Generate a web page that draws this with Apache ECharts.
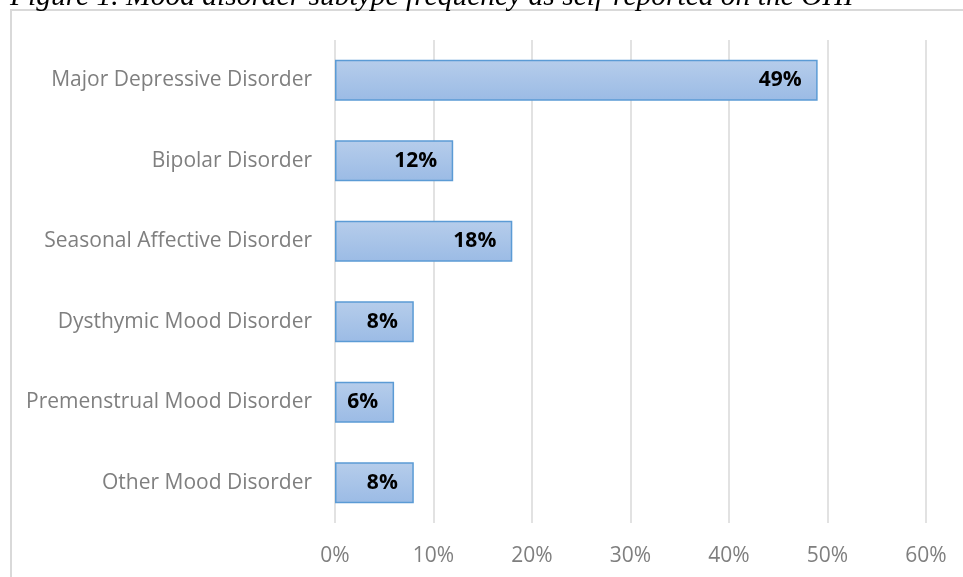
<!DOCTYPE html>
<html><head><meta charset="utf-8">
<script src="https://cdn.jsdelivr.net/npm/echarts@6/dist/echarts.min.js"></script>
<style>html,body{margin:0;padding:0;background:#fff;}#c{width:963px;height:577px;}</style>
</head><body><div id="c"></div>
<script>
const categories = ["Major Depressive Disorder","Bipolar Disorder","Seasonal Affective Disorder","Dysthymic Mood Disorder","Premenstrual Mood Disorder","Other Mood Disorder"];
const values = [49,12,18,8,6,8];
const xTicks = [0,10,20,30,40,50,60];
const title = "Figure 1. Mood disorder subtype frequency as self-reported on the OHI";

const chart = echarts.init(document.getElementById('c'));
chart.setOption({
  animation:false,
  graphic:[
    {type:'rect',shape:{x:11,y:10,width:1000,height:700},style:{fill:'none',stroke:'#d9d9d9',lineWidth:2},z:-1},
    {type:'text',x:10,y:12,style:{text:title,font:'italic 29.5px "Liberation Serif"',fill:'#000',verticalAlign:'bottom'}}
  ],
  grid:{left:335,right:37,top:40,bottom:54,containLabel:false},
  xAxis:{type:'value',min:0,max:60,interval:10,
    axisLine:{show:false},axisTick:{show:false},
    splitLine:{lineStyle:{color:'#d9d9d9',width:1.5}},
    axisLabel:{formatter:v=>v+'%',color:'#7f7f7f',fontSize:21,fontFamily:'Open Sans',margin:23}},
  yAxis:{type:'category',data:categories,inverse:true,
    axisLine:{show:false},axisTick:{show:false},
    axisLabel:{color:'#7f7f7f',fontSize:21,fontFamily:'Open Sans',margin:23}},
  series:[{type:'bar',data:values,barCategoryGap:'49%',
    itemStyle:{borderColor:'#5b9bd5',borderWidth:1.5,
      color:new echarts.graphic.LinearGradient(0,0,0,1,[{offset:0,color:'#b6cdeb'},{offset:1,color:'#9bbbe5'}])},
    label:{show:true,position:'insideRight',distance:16,formatter:p=>p.value+'%',
      color:'#000',fontWeight:'bold',fontSize:21,fontFamily:'Open Sans'}}]
});
</script></body></html>
